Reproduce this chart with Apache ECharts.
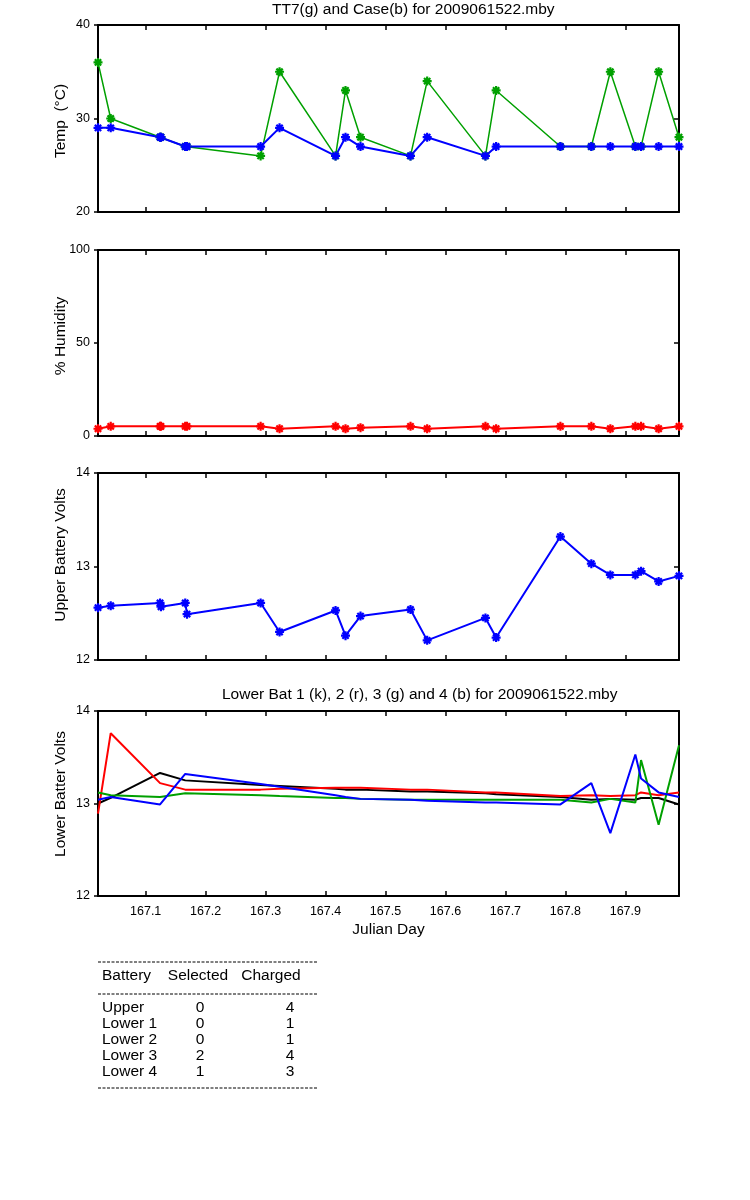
<!DOCTYPE html>
<html>
<head>
<meta charset="utf-8">
<title>2009061522.mby</title>
<script src="https://cdn.jsdelivr.net/npm/echarts@6/dist/echarts.min.js"></script>
<style>
  body { margin: 0; background: #fff; }
  #main { width: 750px; height: 1200px; }
</style>
</head>
<body>
<div id="main"></div>
<script type="text/javascript">
// julian day of each record
var julianDay = [167.0205, 167.0417, 167.1240, 167.1255, 167.1660, 167.1690, 167.2917, 167.3233,
  167.4167, 167.4333, 167.4583, 167.5417, 167.5695, 167.6667, 167.6845, 167.7917, 167.8433,
  167.8750, 167.9167, 167.9262, 167.9555, 167.9895];

// temperatures
var tt7Temp  = [36, 30, 28, 28, 27, 27, 26, 35, 26, 33, 28, 26, 34, 26, 33, 27, 27, 35, 27, 27, 35, 28];
var caseTemp = [29, 29, 28, 28, 27, 27, 27, 29, 26, 28, 27, 26, 28, 26, 27, 27, 27, 27, 27, 27, 27, 27];

// humidity
var humidity = [3.9, 5.2, 5.2, 5.2, 5.2, 5.2, 5.2, 3.9, 5.2, 3.9, 4.5, 5.2, 3.9, 5.2, 3.9, 5.2, 5.2, 3.9, 5.2, 5.2, 3.9, 5.2];

// upper battery
var upperBat = [12.56, 12.58, 12.61, 12.57, 12.61, 12.49, 12.61, 12.30, 12.53, 12.26, 12.47, 12.54,
  12.21, 12.45, 12.24, 13.32, 13.03, 12.91, 12.91, 12.95, 12.84, 12.90];

// lower batteries 1..4
var lowerBat1 = [13.00, 13.06, 13.33, 13.33, 13.25, 13.24, 13.20, 13.19, 13.16, 13.15, 13.15, 13.13,
  13.13, 13.11, 13.10, 13.07, 13.04, 13.05, 13.04, 13.06, 13.06, 12.99];
var lowerBat2 = [12.89, 13.76, 13.22, 13.22, 13.15, 13.15, 13.15, 13.16, 13.17, 13.17, 13.17, 13.15,
  13.15, 13.12, 13.12, 13.08, 13.09, 13.08, 13.09, 13.12, 13.09, 13.12];
var lowerBat3 = [13.12, 13.09, 13.07, 13.07, 13.11, 13.11, 13.09, 13.08, 13.06, 13.06, 13.05, 13.04,
  13.04, 13.04, 13.04, 13.04, 13.01, 13.05, 13.01, 13.47, 12.77, 13.63];
var lowerBat4 = [13.04, 13.07, 12.99, 12.99, 13.32, 13.32, 13.21, 13.18, 13.09, 13.07, 13.05, 13.04,
  13.03, 13.01, 13.01, 12.99, 13.22, 12.68, 13.53, 13.27, 13.12, 13.07];

// battery table
var tableHeader = ['Battery', 'Selected', 'Charged'];
var batteryNames = ['Upper', 'Lower 1', 'Lower 2', 'Lower 3', 'Lower 4'];
var selectedCount = [0, 0, 0, 2, 1];
var chargedCount = [4, 1, 1, 4, 3];

var FONT = "'Liberation Sans', Arial, sans-serif";
var BIG = 15.5;
var GREEN = '#00a000';
var xMin = 167.0205, xMax = 167.9895;

function pairs(ys) {
  return julianDay.map(function (t, i) { return [t, ys[i]]; });
}

var grids = [
  {left: 98, top: 25, width: 581, height: 187},
  {left: 98, top: 250, width: 581, height: 186},
  {left: 98, top: 473, width: 581, height: 187},
  {left: 98, top: 711, width: 581, height: 185}
];

var xAxes = [], yAxes = [];
var yRanges = [[20, 40, 10], [0, 100, 50], [12, 14, 1], [12, 14, 1]];
var yNames = ['Temp  (°C)', '% Humidity', 'Upper Battery Volts', 'Lower Batter Volts'];
var yNameY = [121, 336, 555, 794];

for (var g = 0; g < 4; g++) {
  ['bottom', 'top'].forEach(function (pos) {
    var last = (g === 3 && pos === 'bottom');
    xAxes.push({
      type: 'value', gridIndex: g, position: pos, min: xMin, max: xMax, splitNumber: 10,
      name: last ? 'Julian Day' : '', nameLocation: 'middle', nameGap: 26,
      nameTextStyle: {color: '#000', fontFamily: FONT, fontSize: BIG},
      axisLine: {show: true, onZero: false, lineStyle: {color: '#000', width: 2}},
      axisTick: {show: true, inside: true, length: 5, lineStyle: {color: '#000', width: 1.5}},
      axisLabel: {show: last, showMinLabel: false, showMaxLabel: false, margin: 9,
        color: '#000', fontFamily: FONT, fontSize: 12.5,
        formatter: function (v) { return v.toFixed(1); }},
      splitLine: {show: false}
    });
  });
  ['left', 'right'].forEach(function (pos) {
    var left = pos === 'left';
    yAxes.push({
      type: 'value', gridIndex: g, position: pos,
      min: yRanges[g][0], max: yRanges[g][1], interval: yRanges[g][2],
      axisLine: {show: true, lineStyle: {color: '#000', width: 2}},
      axisTick: {show: true, inside: !left, length: left ? 4 : 5, lineStyle: {color: '#000', width: 1.5}},
      axisLabel: {show: left, margin: 8, color: '#000', fontFamily: FONT, fontSize: 12.5},
      splitLine: {show: false}
    });
  });
}

var star = 'path://M5,0L5,10M0,5L10,5M1.5,1.5L8.5,8.5M1.5,8.5L8.5,1.5';

function markedLine(name, g, ys, color, w) {
  return {
    name: name, type: 'line', xAxisIndex: 2 * g, yAxisIndex: 2 * g, data: pairs(ys),
    symbol: star, symbolSize: 9, showSymbol: true,
    lineStyle: {color: color, width: w},
    itemStyle: {color: color, borderColor: color, borderWidth: 2.2},
    animation: false
  };
}

function plainLine(name, ys, color) {
  return {
    name: name, type: 'line', xAxisIndex: 6, yAxisIndex: 6, data: pairs(ys),
    symbol: 'none', lineStyle: {color: color, width: 2}, animation: false
  };
}

var textFont = BIG + 'px ' + FONT;
var els = [];

// vertical axis titles
yNames.forEach(function (n, i) {
  els.push({type: 'text', x: 61, y: yNameY[i], rotation: Math.PI / 2,
    style: {text: n, fill: '#000', font: textFont, align: 'center', verticalAlign: 'middle'}});
});

// table
var tx = 98, tw = 219;
[962, 994, 1088].forEach(function (y) {
  els.push({type: 'line', shape: {x1: tx, y1: y, x2: tx + tw, y2: y},
    style: {stroke: '#000', lineWidth: 1, lineDash: [3, 1.5]}});
});
var colX = [102, 198, 271];
var colAlign = ['left', 'center', 'center'];
tableHeader.forEach(function (h, i) {
  els.push({type: 'text', x: colX[i], y: 976,
    style: {text: h, fill: '#000', font: textFont, align: colAlign[i], verticalAlign: 'middle'}});
});
batteryNames.forEach(function (n, r) {
  var y = 1008 + r * 16;
  els.push({type: 'text', x: 102, y: y,
    style: {text: n, fill: '#000', font: textFont, align: 'left', verticalAlign: 'middle'}});
  els.push({type: 'text', x: 200, y: y,
    style: {text: String(selectedCount[r]), fill: '#000', font: textFont, align: 'center', verticalAlign: 'middle'}});
  els.push({type: 'text', x: 290, y: y,
    style: {text: String(chargedCount[r]), fill: '#000', font: textFont, align: 'center', verticalAlign: 'middle'}});
});

var myChart = echarts.init(document.getElementById('main'), null, {renderer: 'canvas'});
var option = {
  backgroundColor: '#fff',
  animation: false,
  title: [
    {text: 'TT7(g) and Case(b) for 2009061522.mby', left: 272, top: 2, padding: 0,
      textStyle: {color: '#000', fontFamily: FONT, fontSize: BIG, fontWeight: 'normal'}},
    {text: 'Lower Bat 1 (k), 2 (r), 3 (g) and 4 (b) for 2009061522.mby', left: 222, top: 687, padding: 0,
      textStyle: {color: '#000', fontFamily: FONT, fontSize: BIG, fontWeight: 'normal'}}
  ],
  grid: grids,
  xAxis: xAxes,
  yAxis: yAxes,
  series: [
    markedLine('TT7', 0, tt7Temp, GREEN, 1.5),
    markedLine('Case', 0, caseTemp, '#0000ff', 2),
    markedLine('Humidity', 1, humidity, '#ff0000', 2),
    markedLine('Upper', 2, upperBat, '#0000ff', 2),
    plainLine('Lower 1', lowerBat1, '#000000'),
    plainLine('Lower 2', lowerBat2, '#ff0000'),
    plainLine('Lower 3', lowerBat3, GREEN),
    plainLine('Lower 4', lowerBat4, '#0000ff')
  ],
  graphic: els
};
myChart.setOption(option);
</script>
</body>
</html>
